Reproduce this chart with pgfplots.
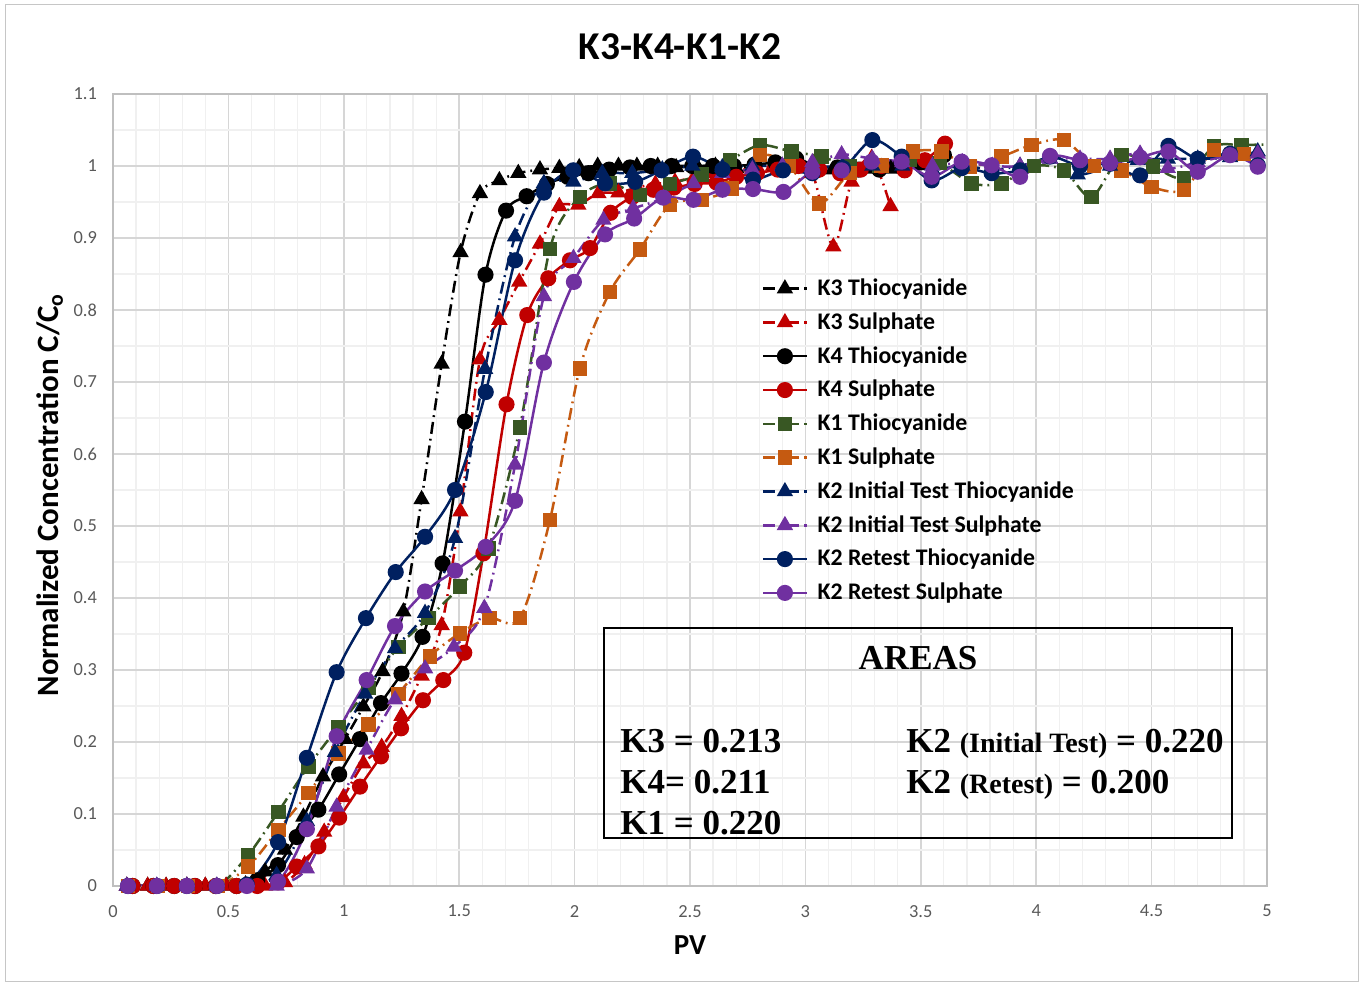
\documentclass[border=0pt]{standalone}
\usepackage{pgfplots}
\pgfplotsset{compat=1.18}
\usepackage{fontspec}
\setmainfont{Carlito}
\newfontfamily\tnr{Liberation Serif}
\definecolor{cRed}{RGB}{192,0,0}
\definecolor{cGreen}{RGB}{56,87,35}
\definecolor{cOrange}{RGB}{197,90,17}
\definecolor{cNavy}{RGB}{0,32,96}
\definecolor{cPurple}{RGB}{112,48,160}
\definecolor{tickgray}{RGB}{89,89,89}
\tikzset{dd/.style={dash pattern=on 6pt off 2.5pt on 0.9pt off 2.5pt}}
\begin{document}
\begin{tikzpicture}
\path[use as bounding box] (0pt,0pt) rectangle (681pt,492.5pt);
\draw[gray!45, line width=0.5pt] (2.5pt,1.5pt) rectangle (679pt,490pt);
\node[font=\fontsize{19.7}{21}\selectfont\bfseries] at (340pt,469pt) {K3-K4-K1-K2};
\node[font=\fontsize{15.5}{17}\selectfont\bfseries, rotate=90] at (25pt,245pt) {Normalized Concentration C/C\textsubscript{o}};
\node[font=\fontsize{14.5}{16}\selectfont\bfseries] at (345pt,20pt) {PV};
\begin{axis}[
  at={(56.5pt,49.5pt)}, anchor=south west,
  scale only axis, width=577pt, height=396pt,
  xmin=0, xmax=5, ymin=0, ymax=1.1,
  xtick={0,0.5,...,5}, ytick={0,0.1,...,1.1},
  minor x tick num=4, minor y tick num=1,
  grid=both,
  major grid style={draw=black!16, line width=0.8pt},
  minor grid style={draw=black!6, line width=0.6pt},
  axis line style={draw=black!25, line width=0.8pt},
  tick style={draw=none},
  /pgf/number format/assume math mode=true,
  ticklabel style={font=\fontsize{9.2}{11}\selectfont, color=tickgray},
  yticklabel style={/pgf/number format/fixed, /pgf/number format/precision=1, xshift=-4.5pt},
  xticklabel style={/pgf/number format/fixed, yshift=-6pt},
  legend style={at={(axis cs:2.785,0.855)}, anchor=north west, draw=none, fill=none,
    font=\fontsize{11.9}{13}\selectfont\bfseries, row sep=3.05pt, column sep=3pt},
  legend cell align=left,
  legend image code/.code={\draw[mark repeat=2,mark phase=2,#1] plot coordinates {(0pt,0pt) (10.75pt,0pt) (21.5pt,0pt)};},
  every axis plot/.append style={line width=1.25pt, smooth, tension=0.5},
]
% K3 Thiocyanide
\addplot[color=black, dd, mark=triangle*, mark size=3.5pt, mark options={solid}] table {
x y
0.06 0
0.15 0
0.23 0
0.32 0
0.40 0
0.49 0
0.574 0.002
0.659 0.02
0.745 0.05
0.825 0.096
0.91 0.152
1.005 0.204
1.085 0.249
1.168 0.298
1.258 0.381
1.337 0.537
1.424 0.725
1.506 0.88
1.59 0.962
1.674 0.98
1.756 0.99
1.85 0.995
1.934 0.997
2.02 0.998
2.10 1.0
2.19 1.0
2.27 1.0
2.36 1.0
2.44 0.998
2.53 1.0
2.61 1.0
2.70 0.997
2.78 1.0
2.87 1.0
2.95 0.997
3.03 0.995
3.12 0.995
3.20 0.997
3.29 0.996
3.37 0.996
};
\addlegendentry{K3 Thiocyanide}
% K3 Sulphate
\addplot[color=cRed, dd, mark=triangle*, mark size=3.5pt, mark options={solid}] table {
x y
0.06 0
0.15 0
0.23 0
0.32 0
0.40 0
0.49 0
0.574 0
0.659 0
0.745 0.005
0.83 0.03
0.915 0.075
0.998 0.123
1.085 0.17
1.164 0.193
1.25 0.236
1.337 0.292
1.424 0.362
1.505 0.52
1.59 0.731
1.674 0.786
1.76 0.839
1.85 0.892
1.934 0.944
2.016 0.946
2.103 0.962
2.19 0.963
2.27 0.970
2.35 0.975
2.435 0.978
2.52 0.985
2.60 0.99
2.69 0.995
2.77 0.995
2.86 1.0
2.94 1.0
3.03 0.99
3.121 0.888
3.2 0.978
3.287 1.011
3.369 0.944
};
\addlegendentry{K3 Sulphate}
% K4 Thiocyanide
\addplot[color=black, solid, mark=*, mark size=3.4pt] table {
x y
0.085 0
0.175 0
0.265 0
0.355 0
0.445 0
0.535 0
0.625 0.008
0.715 0.029
0.796 0.068
0.89 0.106
0.98 0.155
1.07 0.204
1.161 0.254
1.25 0.295
1.341 0.346
1.428 0.448
1.525 0.645
1.614 0.849
1.703 0.938
1.792 0.958
1.88 0.975
1.97 0.985
2.06 0.99
2.15 0.995
2.24 0.998
2.33 1.0
2.42 1.0
2.51 1.0
2.60 1.0
2.69 1.0
2.78 1.002
2.87 1.005
2.96 1.01
3.05 1.0
3.14 0.998
3.23 0.995
3.32 0.995
3.41 1.0
3.50 1.005
3.60 1.015
};
\addlegendentry{K4 Thiocyanide}
% K4 Sulphate
\addplot[color=cRed, solid, mark=*, mark size=3.4pt] table {
x y
0.085 0
0.175 0
0.265 0
0.355 0
0.445 0
0.535 0
0.625 0
0.715 0.005
0.796 0.027
0.89 0.055
0.98 0.095
1.07 0.138
1.161 0.18
1.248 0.219
1.343 0.258
1.431 0.286
1.522 0.324
1.605 0.462
1.705 0.669
1.795 0.793
1.886 0.844
1.98 0.869
2.067 0.886
2.156 0.935
2.25 0.957
2.341 0.967
2.43 0.97
2.52 0.975
2.615 0.977
2.70 0.985
2.79 0.99
2.88 0.995
2.97 1.0
3.06 0.995
3.15 0.99
3.24 0.995
3.33 1.0
3.43 0.994
3.518 1.008
3.605 1.031
};
\addlegendentry{K4 Sulphate}
% K1 Thiocyanide
\addplot[color=cGreen, dd, mark=square*, mark size=3pt, mark options={solid}] table {
x y
0.065 0
0.195 0
0.325 0
0.455 0
0.586 0.043
0.716 0.103
0.846 0.166
0.976 0.221
1.106 0.275
1.236 0.332
1.366 0.372
1.503 0.416
1.626 0.469
1.763 0.637
1.893 0.885
2.023 0.957
2.153 0.976
2.283 0.96
2.413 0.975
2.55 0.988
2.673 1.008
2.803 1.029
2.94 1.02
3.07 1.013
3.19 1.0
3.32 1.0
3.45 1.008
3.58 1.004
3.72 0.976
3.85 0.976
3.99 1.0
4.12 0.994
4.24 0.957
4.37 1.015
4.507 0.999
4.64 0.983
4.77 1.027
4.89 1.029
5.02 1.03
};
\addlegendentry{K1 Thiocyanide}
% K1 Sulphate
\addplot[color=cOrange, dd, mark=square*, mark size=3pt, mark options={solid}] table {
x y
0.065 0
0.195 0
0.325 0
0.455 0
0.586 0.027
0.716 0.078
0.846 0.129
0.976 0.184
1.106 0.224
1.236 0.267
1.373 0.319
1.503 0.351
1.631 0.372
1.763 0.372
1.893 0.508
2.023 0.719
2.153 0.825
2.283 0.884
2.413 0.946
2.55 0.953
2.68 0.969
2.803 1.015
2.93 1.0
3.06 0.948
3.193 0.99
3.33 1.001
3.467 1.02
3.59 1.02
3.71 0.999
3.85 1.013
3.98 1.029
4.12 1.036
4.25 1.0
4.37 0.994
4.50 0.971
4.64 0.967
4.77 1.022
4.90 1.017
};
\addlegendentry{K1 Sulphate}
% K2 Initial Test Thiocyanide
\addplot[color=cNavy, dd, mark=triangle*, mark size=3.5pt, mark options={solid}] table {
x y
0.06 0
0.19 0
0.32 0
0.45 0
0.58 0
0.709 0.015
0.84 0.09
0.962 0.186
1.092 0.267
1.222 0.33
1.352 0.379
1.482 0.483
1.612 0.718
1.742 0.902
1.867 0.976
1.995 0.978
2.12 0.99
2.25 0.99
2.38 0.995
2.51 1.0
2.64 0.998
2.77 1.0
2.90 1.0
3.03 0.998
3.16 1.0
3.29 1.0
3.42 1.0
3.55 0.995
3.68 1.0
3.81 0.995
3.93 1.0
4.06 1.01
4.18 0.988
4.32 1.0
4.44 1.008
4.57 1.01
4.70 1.01
4.84 1.012
4.96 1.02
};
\addlegendentry{K2 Initial Test Thiocyanide}
% K2 Initial Test Sulphate
\addplot[color=cPurple, dd, mark=triangle*, mark size=3.5pt, mark options={solid}] table {
x y
0.06 0
0.19 0
0.32 0
0.45 0
0.58 0
0.709 0
0.84 0.024
0.969 0.11
1.099 0.189
1.222 0.259
1.352 0.302
1.477 0.332
1.609 0.386
1.742 0.585
1.867 0.819
1.995 0.872
2.125 0.925
2.254 0.941
2.385 0.955
2.515 0.976
2.64 0.99
2.77 0.995
2.90 1.0
3.03 1.005
3.157 1.016
3.29 1.01
3.42 1.005
3.55 1.0
3.68 1.005
3.81 1.0
3.93 1.0
4.06 1.01
4.19 1.01
4.32 1.01
4.45 1.017
4.57 0.997
4.70 1.005
4.84 1.015
4.96 1.017
};
\addlegendentry{K2 Initial Test Sulphate}
% K2 Retest Thiocyanide
\addplot[color=cNavy, solid, mark=*, mark size=3.4pt] table {
x y
0.065 0
0.19 0
0.32 0
0.45 0
0.58 0.002
0.715 0.061
0.84 0.178
0.969 0.297
1.096 0.372
1.225 0.436
1.352 0.485
1.482 0.55
1.615 0.686
1.742 0.869
1.867 0.963
1.994 0.994
2.132 0.976
2.262 0.978
2.377 0.994
2.513 1.013
2.641 0.995
2.773 0.981
2.903 0.994
3.03 0.99
3.163 0.997
3.29 1.036
3.417 1.013
3.547 0.98
3.677 0.997
3.807 0.99
3.93 0.994
4.06 1.013
4.19 1.0
4.32 1.003
4.45 0.987
4.573 1.028
4.70 1.01
4.84 1.017
4.96 1.001
};
\addlegendentry{K2 Retest Thiocyanide}
% K2 Retest Sulphate
\addplot[color=cPurple, solid, mark=*, mark size=3.4pt] table {
x y
0.065 0
0.19 0
0.32 0
0.45 0
0.58 0
0.715 0.006
0.84 0.079
0.969 0.208
1.099 0.286
1.222 0.361
1.352 0.409
1.482 0.438
1.615 0.471
1.742 0.535
1.867 0.727
1.997 0.839
2.132 0.905
2.258 0.927
2.384 0.956
2.515 0.953
2.641 0.967
2.773 0.968
2.905 0.964
3.03 0.992
3.157 0.994
3.287 1.006
3.417 1.006
3.547 0.985
3.677 1.006
3.807 1.001
3.93 0.985
4.06 1.014
4.19 1.008
4.32 1.004
4.45 1.012
4.573 1.02
4.70 0.992
4.84 1.015
4.96 0.999
};
\addlegendentry{K2 Retest Sulphate}
% AREAS box
\draw[black, line width=0.8pt] (axis cs:2.127,0.0667) rectangle (axis cs:4.848,0.358);
\node[anchor=base, inner sep=0pt, font=\tnr\fontsize{17.5}{19}\selectfont\bfseries] at (axis cs:3.488,0.3) {AREAS};
\node[anchor=base west, inner sep=0pt, font=\tnr\fontsize{17.5}{19}\selectfont\bfseries] at (axis cs:2.197,0.186) {K3 = 0.213};
\node[anchor=base west, inner sep=0pt, font=\tnr\fontsize{17.5}{19}\selectfont\bfseries] at (axis cs:2.197,0.129) {K4= 0.211};
\node[anchor=base west, inner sep=0pt, font=\tnr\fontsize{17.5}{19}\selectfont\bfseries] at (axis cs:2.197,0.072) {K1 = 0.220};
\node[anchor=base west, inner sep=0pt, font=\tnr\fontsize{17.5}{19}\selectfont\bfseries] at (axis cs:3.436,0.186) {K2 {\fontsize{14}{16}\selectfont(Initial Test)} = 0.220};
\node[anchor=base west, inner sep=0pt, font=\tnr\fontsize{17.5}{19}\selectfont\bfseries] at (axis cs:3.436,0.129) {K2 {\fontsize{14}{16}\selectfont(Retest)} = 0.200};
\end{axis}
\end{tikzpicture}
\end{document}
